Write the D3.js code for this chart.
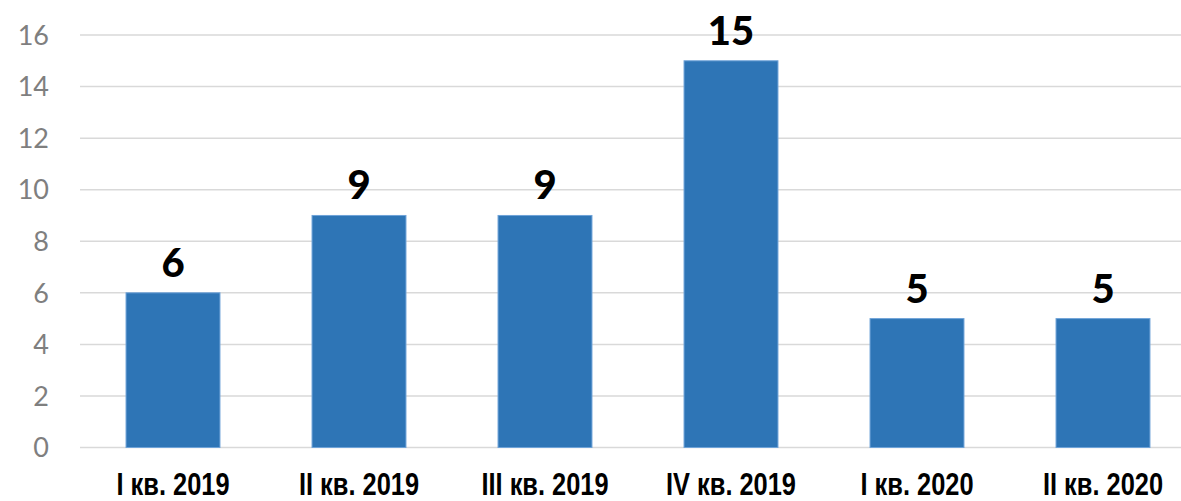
<!DOCTYPE html>
<html>
<head>
<meta charset="utf-8">
<script src="https://cdn.jsdelivr.net/npm/d3@7"></script>
<style>
  body { margin: 0; background: #fff; }
  svg { display: block; }
</style>
</head>
<body>
<svg id="chart"></svg>
<script>
// --- data ---
const quarters = ['I кв. 2019', 'II кв. 2019', 'III кв. 2019', 'IV кв. 2019', 'I кв. 2020', 'II кв. 2020'];
const counts = [6, 9, 9, 15, 5, 5];
const yTicks = [0, 2, 4, 6, 8, 10, 12, 14, 16];

const width = 1181;
const height = 501;
const svg = d3.select('#chart').attr('width', width).attr('height', height);

const x = d3.scaleBand()
  .domain(quarters)
  .range([80, 1196])
  .paddingInner(0.495)
  .paddingOuter(0.2475);

const y = d3.scaleLinear()
  .domain([0, 16])
  .range([447.5, 35]);

// gridlines
svg.append('g')
  .selectAll('line')
  .data(yTicks)
  .join('line')
  .attr('x1', 80)
  .attr('x2', width)
  .attr('y1', d => y(d))
  .attr('y2', d => y(d))
  .attr('stroke', '#d9d9d9')
  .attr('stroke-width', 1.5);

// y tick labels
svg.append('g')
  .selectAll('text')
  .data(yTicks)
  .join('text')
  .attr('x', 49)
  .attr('y', d => y(d))
  .attr('dy', '0.36em')
  .attr('text-anchor', 'end')
  .attr('fill', '#7f7f7f')
  .style('font-family', 'Lato, "Open Sans", sans-serif')
  .style('font-size', '27px')
  .text(d => d);

// bars
svg.append('g')
  .selectAll('rect')
  .data(quarters)
  .join('rect')
  .attr('x', d => x(d))
  .attr('y', (d, i) => y(counts[i]))
  .attr('width', x.bandwidth())
  .attr('height', (d, i) => y(0) - y(counts[i]))
  .attr('fill', '#2e75b6')
  .attr('stroke', '#6fa3d8')
  .attr('stroke-width', 1);

// value labels
svg.append('g')
  .selectAll('text')
  .data(quarters)
  .join('text')
  .attr('x', d => x(d) + x.bandwidth() / 2)
  .attr('y', (d, i) => y(counts[i]) - 16)
  .attr('text-anchor', 'middle')
  .attr('fill', '#000')
  .style('font-family', 'Lato, "Open Sans", sans-serif')
  .style('font-weight', '900')
  .style('font-size', '40px')
  .text((d, i) => counts[i]);

// category labels (condensed look via horizontal squeeze)
svg.append('g')
  .selectAll('text')
  .data(quarters)
  .join('text')
  .attr('transform', d => `translate(${x(d) + x.bandwidth() / 2},495) scale(0.82,1)`)
  .attr('text-anchor', 'middle')
  .attr('fill', '#000')
  .style('font-family', '"Liberation Sans", Arial, sans-serif')
  .style('font-weight', 'bold')
  .style('font-size', '31px')
  .text(d => d);
</script>
</body>
</html>
